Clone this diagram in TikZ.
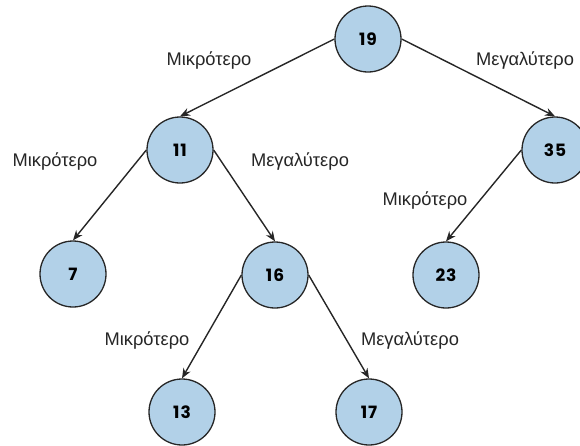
\documentclass[tikz,border=0pt]{standalone}
\usepackage{fontspec}
\setmainfont{Liberation Sans}
\newfontfamily\numfont[LetterSpace=6]{Poppins}
\usetikzlibrary{arrows.meta}

\definecolor{nodeblue}{RGB}{178,209,232}
\tikzset{
    key/.style={circle, draw=black!85, line width=1.3pt, fill=nodeblue,
        minimum size=66pt, inner sep=0pt, font=\numfont\bfseries\fontsize{17}{17}\selectfont},
    side/.style={font=\fontsize{18.3}{20}\selectfont, text=black!85},
    edge/.style={line width=1.4pt, draw=black!85, -{Stealth[length=10pt, width=8pt]}}
}

\begin{document}
\begin{tikzpicture}[x=1pt, y=-1pt]
        \useasboundingbox (0,0) rectangle (580,445);

        \node[key] (n19) at (368, 39) {19};
        \node[key] (n11) at (180, 150) {11};
        \node[key] (n35) at (555, 150) {35};
        \node[key] (n7) at (73, 274) {7};
        \node[key] (n16) at (275, 275) {16};
        \node[key] (n23) at (446, 275) {23};
        \node[key] (n13) at (182, 412) {13};
        \node[key] (n17) at (369, 412) {17};

        \node[side] (less19) at (209, 61) {Μικρότερο};
        \node[side] (more19) at (525, 61) {Μεγαλύτερο};
        \node[side] (less11) at (55, 161) {Μικρότερο};
        \node[side] (more11) at (300, 161) {Μεγαλύτερο};
        \node[side] (less35) at (425, 200) {Μικρότερο};
        \node[side] (less16) at (147, 340) {Μικρότερο};
        \node[side] (more16) at (410, 340) {Μεγαλύτερο};

        \draw[edge] (n19.west) to (n11.north);
        \draw[edge] (n19.east) to (n35.north);
        \draw[edge] (n11.west) to (n7.north);
        \draw[edge] (n11.east) to (n16.north);
        \draw[edge] (n35.west) to (n23.north);
        \draw[edge] (n16.west) to (n13.north);
        \draw[edge] (n16.east) to (n17.north);
    \end{tikzpicture}
\end{document}
